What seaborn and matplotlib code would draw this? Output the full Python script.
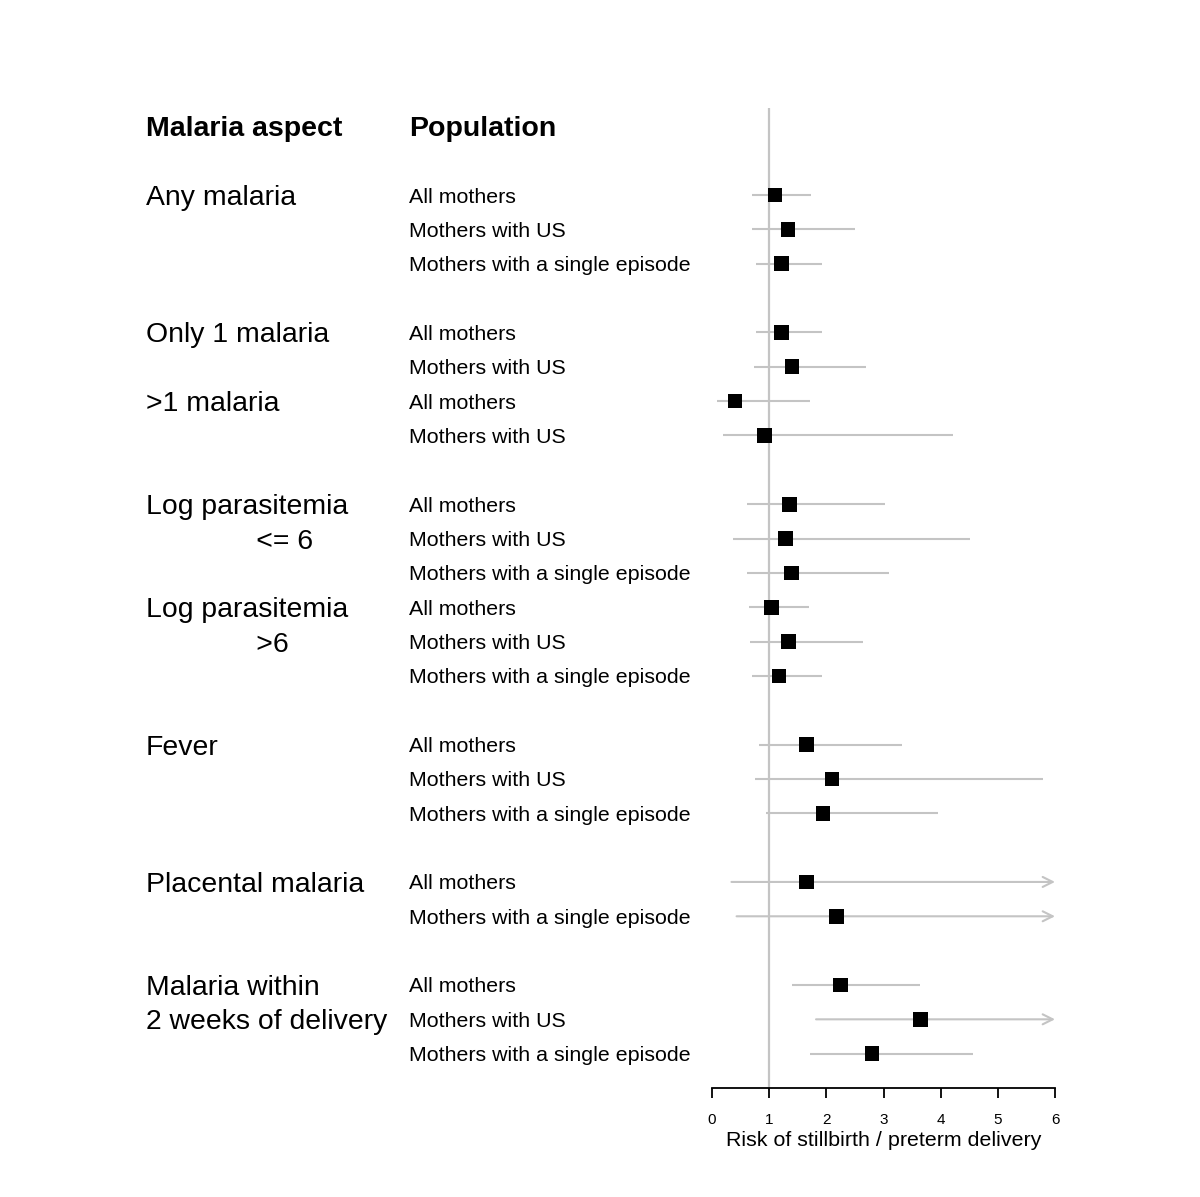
import numpy as np
import pandas as pd
import seaborn as sns
import matplotlib.pyplot as plt
import matplotlib.transforms as mtransforms

# one entry per estimate, top to bottom
aspect = ["Any malaria", "", "",
          "Only 1 malaria", "", ">1 malaria", "",
          "Log parasitemia", "              <= 6", "",
          "Log parasitemia", "              >6", "",
          "Fever", "", "",
          "Placental malaria", "",
          "Malaria within", "2 weeks of delivery", ""]
population = ["All mothers", "Mothers with US", "Mothers with a single episode",
              "All mothers", "Mothers with US", "All mothers", "Mothers with US",
              "All mothers", "Mothers with US", "Mothers with a single episode",
              "All mothers", "Mothers with US", "Mothers with a single episode",
              "All mothers", "Mothers with US", "Mothers with a single episode",
              "All mothers", "Mothers with a single episode",
              "All mothers", "Mothers with US", "Mothers with a single episode"]
block = [0, 0, 0, 1, 1, 1, 1, 2, 2, 2, 2, 2, 2, 3, 3, 3, 4, 4, 5, 5, 5]
estimate = [1.10, 1.33, 1.22, 1.22, 1.40, 0.40, 0.92,
            1.36, 1.29, 1.39, 1.04, 1.34, 1.17,
            1.65, 2.10, 1.94, 1.65, 2.18, 2.25, 3.65, 2.80]
lower = [0.70, 0.70, 0.77, 0.77, 0.73, 0.08, 0.20,
         0.61, 0.37, 0.62, 0.64, 0.67, 0.70,
         0.82, 0.76, 0.95, 0.34, 0.43, 1.40, 1.82, 1.71]
upper = [1.73, 2.51, 1.92, 1.92, 2.70, 1.72, 4.21,
         3.02, 4.52, 3.09, 1.70, 2.64, 1.93,
         3.33, 5.79, 3.96, np.inf, np.inf, 3.63, np.inf, 4.57]

df = pd.DataFrame({"aspect": aspect, "population": population,
                   "estimate": estimate, "lower": lower, "upper": upper})
# blank line between blocks, two lines for the header
df["row"] = np.arange(len(df)) + 2 + np.array(block)

sns.set_theme(style="white")
plt.rcParams["font.family"] = ["Liberation Sans", "DejaVu Sans"]
plt.rcParams["text.color"] = "black"
plt.rcParams["axes.labelcolor"] = "black"
plt.rcParams["xtick.color"] = "black"

W, H = 1200, 1197
fig = plt.figure(figsize=(W / 100, H / 100), dpi=100)
ax = fig.add_axes([712 / W, 1 - 1088 / H, 343 / W, 980 / H])
grey = "#c4c4c4"
xmax = 6

ax.axvline(1, color=grey, lw=1.6, zorder=1)

finite = np.isfinite(df["upper"])
ax.hlines(df.loc[finite, "row"], df.loc[finite, "lower"], df.loc[finite, "upper"],
          color=grey, lw=1.5, zorder=2)
for _, r in df[~finite].iterrows():
    ax.annotate("", xy=(xmax, r["row"]), xytext=(r["lower"], r["row"]),
                arrowprops=dict(arrowstyle="->", color=grey, lw=1.5,
                                shrinkA=0, shrinkB=0, mutation_scale=18),
                annotation_clip=False, zorder=2)

sns.scatterplot(data=df, x="estimate", y="row", marker="s", s=112,
                color="black", edgecolor="none", ax=ax, zorder=3, clip_on=False)

ax.set_xlim(0, xmax)
ax.set_ylim(28, -0.536)
ax.set_xticks(range(0, 7))
ax.set_yticks([])
ax.set_ylabel("")
ax.set_xlabel("Risk of stillbirth / preterm delivery", fontsize=15.4, labelpad=3)
for side in ["top", "left", "right"]:
    ax.spines[side].set_visible(False)
ax.spines["bottom"].set_color("black")
ax.spines["bottom"].set_linewidth(1.3)
ax.tick_params(axis="x", bottom=True, direction="out", length=7, width=1.3,
               color="black", labelsize=11, pad=11)

trans = mtransforms.blended_transform_factory(fig.transFigure, ax.transData)
ax.text(146 / W, 0, "Malaria aspect", transform=trans, fontsize=20.5,
        fontweight="bold", va="center_baseline", ha="left")
ax.text(409 / W, 0, "Population", transform=trans, fontsize=20.5,
        fontweight="bold", va="center_baseline", ha="left")
for _, r in df.iterrows():
    if r["aspect"]:
        ax.text(146 / W, r["row"], r["aspect"], transform=trans, fontsize=20.4,
                va="center_baseline", ha="left")
    ax.text(409 / W, r["row"], r["population"], transform=trans, fontsize=15.4,
            va="center_baseline", ha="left")

fig.savefig("out.png", dpi=100, facecolor="white")
